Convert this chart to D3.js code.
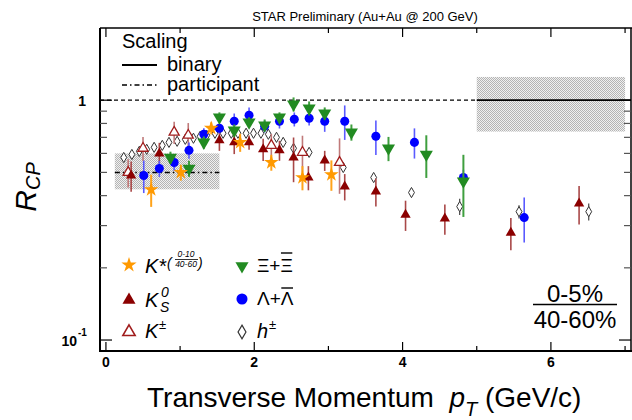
<!DOCTYPE html>
<html><head><meta charset="utf-8">
<script src="https://cdn.jsdelivr.net/npm/d3@7"></script>
<style>body{margin:0;background:#fff;} svg{display:block;font-family:"Liberation Sans",Arial,sans-serif;}</style>
</head><body><svg id="c" width="632" height="420"></svg>
<script>
// ---------------- data ----------------
const titleText = "STAR Preliminary (Au+Au @ 200 GeV)";
const xTickVals = [0,1,2,3,4,5,6,7];
const xTickLabels = ["0","","2","","4","","6",""];
const yTickVals = [0.1,0.2,0.3,0.4,0.5,0.6,0.7,0.8,0.9,1];

const hPt  = [0.24,0.35,0.45,0.55,0.65,0.76,0.85,0.96,1.07,1.18,1.27,1.36,1.47,1.58,1.69,1.78,1.89,1.99,2.09,2.19,2.30,2.39,2.53,2.74,3.20,3.61,4.12,4.77,5.57,6.51];
const hR   = [0.577,0.594,0.612,0.624,0.636,0.648,0.667,0.674,0.687,0.694,0.707,0.714,0.728,0.728,0.728,0.728,0.728,0.728,0.728,0.721,0.700,0.667,0.630,0.606,0.524,0.476,0.412,0.360,0.343,0.343];
const hErr = [0.01,0.01,0.01,0.01,0.01,0.01,0.01,0.01,0.01,0.01,0.01,0.01,0.01,0.01,0.01,0.01,0.01,0.01,0.01,0.01,0.01,0.01,0.01,0.012,0.015,0.015,0.018,0.028,0.022,0.028];

const kchPt  = [0.30,0.50,0.92,1.11,2.23,2.65,3.15];
const kchR   = [0.500,0.630,0.735,0.714,0.648,0.606,0.550];
const kchErr = [0.067,0.073,0.078,0.089,0.075,0.105,0.143];

const k0Pt  = [0.34,0.72,1.53,1.73,1.93,2.12,2.34,2.53,2.73,2.95,3.22,3.64,4.04,4.57,5.46,6.38];
const k0R   = [0.485,0.600,0.680,0.667,0.667,0.624,0.618,0.577,0.476,0.561,0.437,0.416,0.333,0.321,0.280,0.371];
const k0Err = [0.070,0.064,0.065,0.071,0.045,0.066,0.059,0.122,0.055,0.054,0.055,0.056,0.048,0.046,0.043,0.068];

const lamPt  = [0.51,0.72,0.92,1.12,1.32,1.53,1.73,1.93,2.14,2.34,2.54,2.74,2.95,3.22,3.64,4.16,4.82,5.64];
const lamR   = [0.485,0.519,0.550,0.618,0.721,0.764,0.817,0.866,0.778,0.817,0.833,0.841,0.817,0.817,0.707,0.667,0.476,0.324];
const lamErr = [0.075,0.040,0.042,0.048,0.042,0.037,0.063,0.067,0.045,0.055,0.056,0.057,0.079,0.134,0.116,0.096,0.037,0.069];

const xiPt  = [0.87,1.12,1.32,1.53,1.73,1.93,2.14,2.34,2.53,2.74,2.95,3.31,3.81,4.32,4.82];
const xiR   = [0.577,0.519,0.667,0.849,0.749,0.809,0.786,0.849,0.962,0.926,0.882,0.735,0.630,0.594,0.459];
const xiErr = [0.033,0.040,0.039,0.041,0.043,0.039,0.045,0.041,0.065,0.062,0.051,0.057,0.073,0.120,0.133];

const kstPt  = [0.61,1.01,1.42,1.81,2.23,2.65,3.04];
const kstR   = [0.424,0.500,0.764,0.667,0.550,0.476,0.490];
const kstErr = [0.065,0.038,0.044,0.058,0.042,0.055,0.071];

// scaling bands: [xmin, xmax, ymin, ymax, centre]
const partBand = [0.12, 1.53, 0.425, 0.600, 0.5];
const binBand  = [5.0, 7.0, 0.74, 1.25, 1.0];

// ---------------- drawing ----------------
const svg = d3.select("#c");
const x = d3.scaleLinear().domain([-0.08, 7.08]).range([100, 631]);
const y = d3.scaleLog().domain([0.09, 2.0]).range([351, 28]);
const X0 = 100, X1 = 631, Y0 = 351, Y1 = 28;

const defs = svg.append("defs");
const pat = defs.append("pattern").attr("id","stip").attr("width",2).attr("height",2).attr("patternUnits","userSpaceOnUse");
pat.append("rect").attr("width",2).attr("height",2).attr("fill","#f0f0f0");
pat.append("rect").attr("width",1).attr("height",1).attr("fill","#b4b4b4");
pat.append("rect").attr("x",1).attr("y",1).attr("width",1).attr("height",1).attr("fill","#b4b4b4");

// bands
[partBand, binBand].forEach(b => {
  svg.append("rect").attr("x", x(b[0])).attr("width", x(b[1]) - x(b[0]))
    .attr("y", y(b[3])).attr("height", y(b[2]) - y(b[3])).attr("fill", "url(#stip)");
});
// participant dash-dot line
svg.append("line").attr("x1", x(partBand[0])).attr("x2", x(partBand[1]))
  .attr("y1", y(partBand[4])).attr("y2", y(partBand[4]))
  .attr("stroke","#000").attr("stroke-width",1.5).attr("stroke-dasharray","5,3,1.5,3");
// dashed line at 1 up to 5
svg.append("line").attr("x1", X0).attr("x2", x(binBand[0]))
  .attr("y1", y(1)).attr("y2", y(1))
  .attr("stroke","#000").attr("stroke-width",1.2).attr("stroke-dasharray","4,3");
// solid binary line
svg.append("line").attr("x1", x(binBand[0])).attr("x2", X1)
  .attr("y1", y(1)).attr("y2", y(1)).attr("stroke","#000").attr("stroke-width",1.8);

// series
const series = [
  {pt:hPt, r:hR, err:hErr, sym:d3.symbolDiamond, size:30, fill:"#fff", stroke:"#333", sw:1, ecol:"#444", ew:1.2, rot:0},
  {pt:kchPt, r:kchR, err:kchErr, sym:d3.symbolTriangle, size:44, fill:"#fff", stroke:"#a01c1c", sw:1.3, ecol:"#c07a7a", ew:1.6, rot:0},
  {pt:k0Pt, r:k0R, err:k0Err, sym:d3.symbolTriangle, size:46, fill:"#8b0000", stroke:"none", sw:0, ecol:"#a94848", ew:1.6, rot:0},
  {pt:lamPt, r:lamR, err:lamErr, sym:d3.symbolCircle, size:64, fill:"#0000ff", stroke:"none", sw:0, ecol:"#5a5aff", ew:1.6, rot:0},
  {pt:xiPt, r:xiR, err:xiErr, sym:d3.symbolTriangle, size:74, fill:"#228b22", stroke:"none", sw:0, ecol:"#3f9f3f", ew:2, rot:180},
  {pt:kstPt, r:kstR, err:kstErr, sym:d3.symbolStar, size:66, fill:"#ff9900", stroke:"none", sw:0, ecol:"#ffa31a", ew:2, rot:0},
];

series.forEach(s => {
  const g = svg.append("g");
  const data = s.pt.map((p,i) => ({p, r:s.r[i], e:s.err[i]}));
  g.selectAll("line.e").data(data).enter().append("line")
    .attr("x1", d => x(d.p)).attr("x2", d => x(d.p))
    .attr("y1", d => y(d.r + d.e)).attr("y2", d => y(Math.max(d.r - d.e, 0.091)))
    .attr("stroke", s.ecol).attr("stroke-width", s.ew);
  g.selectAll("path").data(data).enter().append("path")
    .attr("d", d3.symbol().type(s.sym).size(s.size)())
    .attr("transform", d => `translate(${x(d.p)},${y(d.r)}) rotate(${s.rot})`)
    .attr("fill", s.fill).attr("stroke", s.stroke).attr("stroke-width", s.sw);
});

// frame
const fr = svg.append("g").attr("stroke","#000").attr("fill","none");
fr.append("line").attr("x1",X0).attr("x2",632).attr("y1",Y1).attr("y2",Y1).attr("stroke-width",1.5);
fr.append("line").attr("x1",X1).attr("x2",X1).attr("y1",Y1).attr("y2",Y0).attr("stroke-width",1.5);
fr.append("line").attr("x1",X0).attr("x2",X0).attr("y1",Y1).attr("y2",Y0+1).attr("stroke-width",2);
fr.append("line").attr("x1",X0-1).attr("x2",632).attr("y1",Y0).attr("y2",Y0).attr("stroke-width",2);

// x ticks
xTickVals.forEach((v,i) => {
  const L = (v % 2 === 0) ? 9 : 5;
  fr.append("line").attr("x1",x(v)).attr("x2",x(v)).attr("y1",Y0).attr("y2",Y0-L).attr("stroke-width",1.2);
  fr.append("line").attr("x1",x(v)).attr("x2",x(v)).attr("y1",Y1).attr("y2",Y1+L).attr("stroke-width",1.2);
  if (xTickLabels[i]) svg.append("text").attr("x",x(v)).attr("y",367).attr("text-anchor","middle")
    .attr("font-size",14).attr("font-weight","bold").text(xTickLabels[i]);
});
// y ticks
yTickVals.forEach(v => {
  const major = (v === 1 || v === 0.1);
  const L = major ? 12 : 7;
  fr.append("line").attr("x1",X0).attr("x2",X0+L).attr("y1",y(v)).attr("y2",y(v)).attr("stroke-width",1.2).attr("stroke", major ? "#000" : "#555");
  fr.append("line").attr("x1",X1).attr("x2",X1-L).attr("y1",y(v)).attr("y2",y(v)).attr("stroke-width",1.2).attr("stroke", major ? "#000" : "#555");
});
svg.append("text").attr("x",86).attr("y",y(1)+5.5).attr("text-anchor","end").attr("font-size",14).attr("font-weight","bold").text("1");
svg.append("text").attr("x",77).attr("y",y(0.1)+6).attr("text-anchor","end").attr("font-size",14).attr("font-weight","bold").text("10");
svg.append("text").attr("x",78).attr("y",y(0.1)-4).attr("font-size",10).attr("font-weight","bold").text("-1");

// title
svg.append("text").attr("x",365).attr("y",21).attr("text-anchor","middle").attr("font-size",13).text(titleText);

// axis titles
const yl = svg.append("text").attr("transform","translate(36,187) rotate(-90)").attr("text-anchor","middle").attr("font-style","italic");
yl.append("tspan").attr("font-size",30).text("R");
yl.append("tspan").attr("font-size",20).attr("dy",4).text("CP");

const xl = svg.append("text").attr("x",147).attr("y",407).attr("font-size",28);
xl.append("tspan").text("Transverse Momentum\u00a0\u00a0");
xl.append("tspan").attr("font-style","italic").text("p");
xl.append("tspan").attr("font-style","italic").attr("font-size",20).attr("dy",9).text("T");
xl.append("tspan").attr("dy",-9).text("\u00a0(GeV/c)");

// scaling legend
svg.append("text").attr("x",122).attr("y",48).attr("font-size",20).text("Scaling");
svg.append("line").attr("x1",122).attr("x2",157).attr("y1",65).attr("y2",65).attr("stroke","#000").attr("stroke-width",1.8);
svg.append("text").attr("x",167).attr("y",71).attr("font-size",20).text("binary");
svg.append("line").attr("x1",122).attr("x2",157).attr("y1",85).attr("y2",85).attr("stroke","#000").attr("stroke-width",1.5).attr("stroke-dasharray","5,3,1.5,3");
svg.append("text").attr("x",167).attr("y",91).attr("font-size",20).text("participant");

// species legend
function mk(s, cx, cy, scale) {
  svg.append("path").attr("d", d3.symbol().type(s.sym).size(s.size*scale)())
    .attr("transform", `translate(${cx},${cy}) rotate(${s.rot})`)
    .attr("fill", s.fill).attr("stroke", s.stroke).attr("stroke-width", s.sw*1.2);
}
mk(series[5], 129, 265, 1.1);
mk(series[2], 129, 300, 1.6);
mk(series[1], 129, 332, 1.5);
mk(series[4], 242, 266, 1.0);
mk(series[3], 242, 299, 1.5);
mk(series[0], 242, 332, 1.8);

svg.append("text").attr("x",145).attr("y",273).attr("font-size",20).attr("font-style","italic").text("K*");
svg.append("text").attr("x",167).attr("y",268).attr("font-size",14).attr("font-style","italic").text("(");
svg.append("text").attr("x",186).attr("y",257).attr("font-size",8.5).attr("font-style","italic").attr("text-anchor","middle").text("0-10");
svg.append("line").attr("x1",175).attr("x2",198).attr("y1",259.5).attr("y2",259.5).attr("stroke","#000").attr("stroke-width",0.8);
svg.append("text").attr("x",186).attr("y",267).attr("font-size",8.5).attr("font-style","italic").attr("text-anchor","middle").text("40-60");
svg.append("text").attr("x",198).attr("y",268).attr("font-size",14).attr("font-style","italic").text(")");

svg.append("text").attr("x",145).attr("y",307).attr("font-size",20).attr("font-style","italic").text("K");
svg.append("text").attr("x",161).attr("y",297).attr("font-size",14).attr("font-style","italic").text("0");
svg.append("text").attr("x",160).attr("y",312).attr("font-size",14).attr("font-style","italic").text("S");

svg.append("text").attr("x",145).attr("y",338).attr("font-size",20).attr("font-style","italic").text("K");
svg.append("text").attr("x",159).attr("y",329).attr("font-size",13).text("\u00b1");

function barLabel(sym, yb, over) {
  const t1 = svg.append("text").attr("x",257).attr("y",yb).attr("font-size",19).text(sym + "+");
  const w1 = t1.node().getComputedTextLength();
  const t2 = svg.append("text").attr("x",257 + w1).attr("y",yb).attr("font-size",19).text(sym);
  const w2 = t2.node().getComputedTextLength();
  svg.append("line").attr("x1",257 + w1 + 0.5).attr("x2",257 + w1 + w2 - 0.5).attr("y1",over).attr("y2",over)
    .attr("stroke","#000").attr("stroke-width",1.4);
}
barLabel("\u039e", 272, 253);
barLabel("\u039b", 305, 288);

svg.append("text").attr("x",257).attr("y",338).attr("font-size",20).attr("font-style","italic").text("h");
svg.append("text").attr("x",269).attr("y",329).attr("font-size",13).text("\u00b1");

// centrality fraction
svg.append("text").attr("x",575).attr("y",302).attr("text-anchor","middle").attr("font-size",24).text("0-5%");
svg.append("line").attr("x1",533).attr("x2",617).attr("y1",304.5).attr("y2",304.5).attr("stroke","#000").attr("stroke-width",1.5);
svg.append("text").attr("x",575).attr("y",328).attr("text-anchor","middle").attr("font-size",24).text("40-60%");
</script></body></html>
